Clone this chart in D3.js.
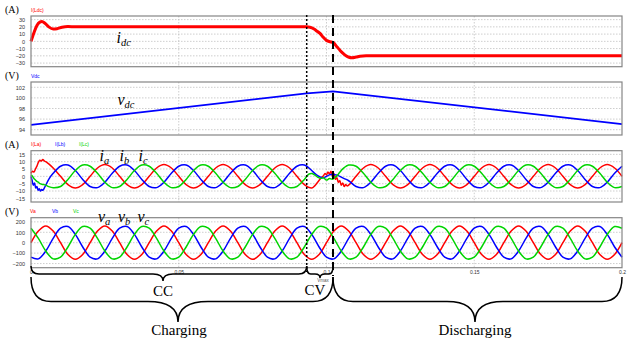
<!DOCTYPE html>
<meta charset="utf-8">
<head>
<title>Charging / discharging waveforms</title>
<style>
body { margin: 0; background: #fff; }
.tick text { font: 5.5px "Liberation Sans", Arial, sans-serif; fill: #333; }
.unit { font: 10px "Liberation Serif", "Times New Roman", serif; }
.legend { font: 5px "Liberation Sans", Arial, sans-serif; }
.math { font-family: "Liberation Serif", "Times New Roman", serif; font-style: italic; font-size: 16px; }
.phase { font: 15px "Liberation Serif", "Times New Roman", serif; }
</style>
</head>
<body>
<script src="https://cdn.jsdelivr.net/npm/d3@7"></script>
<script>

// ---- data ----

// time axis (s)
var xTicks = [0, 0.05, 0.1, 0.15, 0.2];
var xTickLabels = ["0", "0.05", "0.1", "0.15", "0.2"];
var xGrid = [0.05, 0.1, 0.15];

// switching instants (s): CC -> CV, charging -> discharging
var tCV = 0.0933, tDis = 0.1022;

// y ticks of each panel
var idcTicks = [30, 20, 10, 0, -10, -20, -30];
var vdcTicks = [102, 100, 98, 96, 94];
var iacTicks = [15, 10, 5, 0, -5, -10, -15];
var vacTicks = [200, 100, 0, -100, -200];

// dc current i_dc (A)
var idcTime = [0, 0.001, 0.002, 0.003, 0.0037, 0.0047, 0.006, 0.0075, 0.0088, 0.0105, 0.0125, 0.015,
  0.0933, 0.0944, 0.0958, 0.0968, 0.0978, 0.0988, 0.1001, 0.1012, 0.1022,
  0.1035, 0.1046, 0.1056, 0.1066, 0.1076, 0.1086, 0.11, 0.1113, 0.1134, 0.2];
var idcValue = [0, 12, 22, 26.5, 27.3, 25, 20, 17, 17.5, 19.5, 20.5, 20,
  20, 19.5, 17, 14, 11, 6, 1, -0.5, -1.5,
  -7.4, -12.5, -16.6, -20, -22, -22.7, -21.8, -20.5, -20, -20];

// dc voltage v_dc (V)
var vdcTime = [0, 0.0933, 0.1022, 0.2];
var vdcValue = [94.9, 100.85, 101.25, 95.05];

// phase voltages (V), sampled every 2.5 ms from 0 to 0.2 s
var va = [0,113,160,113,0,-113,-160,-113, 0,113,160,113,0,-113,-160,-113, 0,113,160,113,0,-113,-160,-113,
  0,113,160,113,0,-113,-160,-113, 0,113,160,113,0,-113,-160,-113, 0,113,160,113,0,-113,-160,-113,
  0,113,160,113,0,-113,-160,-113, 0,113,160,113,0,-113,-160,-113, 0,113,160,113,0,-113,-160,-113,
  0,113,160,113,0,-113,-160,-113, 0];
var vb = [-139,-155,-80,41,139,155,80,-41, -139,-155,-80,41,139,155,80,-41, -139,-155,-80,41,139,155,80,-41,
  -139,-155,-80,41,139,155,80,-41, -139,-155,-80,41,139,155,80,-41, -139,-155,-80,41,139,155,80,-41,
  -139,-155,-80,41,139,155,80,-41, -139,-155,-80,41,139,155,80,-41, -139,-155,-80,41,139,155,80,-41,
  -139,-155,-80,41,139,155,80,-41, -139];
var vc = [139,41,-80,-155,-139,-41,80,155, 139,41,-80,-155,-139,-41,80,155, 139,41,-80,-155,-139,-41,80,155,
  139,41,-80,-155,-139,-41,80,155, 139,41,-80,-155,-139,-41,80,155, 139,41,-80,-155,-139,-41,80,155,
  139,41,-80,-155,-139,-41,80,155, 139,41,-80,-155,-139,-41,80,155, 139,41,-80,-155,-139,-41,80,155,
  139,41,-80,-155,-139,-41,80,155, 139];

// phase currents (A) on the same 2.5 ms grid; null where the transient lists below take over
var ia = [null, null, null,
  5.7,0,-5.7,-8,-5.7, 0,5.7,8,5.7,0,-5.7,-8,-5.7, 0,5.7,8,5.7,0,-5.7,-8,-5.7, 0,5.7,8,5.7,0,-5.7,-8,-5.7, 0,5.7,8,5.7,0,-5.7,
  null, null, null, null, null, null,
  0,5.7,8,5.7,0,-5.7,-8,-5.7, 0,5.7,8,5.7,0,-5.7,-8,-5.7, 0,5.7,8,5.7,0,-5.7,-8,-5.7, 0,5.7,8,5.7,0,-5.7,-8,-5.7, 0,5.7,8,5.7,0];
var ib = [null, null, null,
  2.1,6.9,7.7,4,-2.1, -6.9,-7.7,-4,2.1,6.9,7.7,4,-2.1, -6.9,-7.7,-4,2.1,6.9,7.7,4,-2.1, -6.9,-7.7,-4,2.1,6.9,7.7,4,-2.1, -6.9,-7.7,-4,2.1,6.9,7.7,
  null, null, null, null, null, null,
  -6.9,-7.7,-4,2.1,6.9,7.7,4,-2.1, -6.9,-7.7,-4,2.1,6.9,7.7,4,-2.1, -6.9,-7.7,-4,2.1,6.9,7.7,4,-2.1, -6.9,-7.7,-4,2.1,6.9,7.7,4,-2.1, -6.9,-7.7,-4,2.1,6.9];
var ic = [null, null, null,
  -7.7,-6.9,-2.1,4,7.7, 6.9,2.1,-4,-7.7,-6.9,-2.1,4,7.7, 6.9,2.1,-4,-7.7,-6.9,-2.1,4,7.7, 6.9,2.1,-4,-7.7,-6.9,-2.1,4,7.7, 6.9,2.1,-4,-7.7,-6.9,-2.1,
  null, null, null, null, null, null,
  6.9,2.1,-4,-7.7,-6.9,-2.1,4,7.7, 6.9,2.1,-4,-7.7,-6.9,-2.1,4,7.7, 6.9,2.1,-4,-7.7,-6.9,-2.1,4,7.7, 6.9,2.1,-4,-7.7,-6.9,-2.1,4,7.7, 6.9,2.1,-4,-7.7,-6.9];

// transients [t, i] : start-up and CC -> CV -> discharge
var iaTransient = [[0,2],[0.0005,3.5],[0.001,3],[0.0015,5],[0.002,7],[0.0025,9.5],[0.003,11],[0.0035,10.5],[0.004,11.5],[0.0045,10.5],[0.005,10],[0.006,8.5],
  [0.095,-8],[0.096,-6.5],[0.097,-4],[0.098,-1.5],[0.099,0.5],[0.0995,2],[0.1,1],[0.1005,3],[0.101,1.5],[0.1015,3.5],[0.102,0],[0.1025,2],
  [0.103,-2],[0.1035,-1],[0.104,-4],[0.1045,-3],[0.105,-6],[0.1055,-4.5],[0.106,-7],[0.1065,-5.5],[0.107,-6.5],[0.108,-5],[0.109,-2.5]];
var ibTransient = [[0,0],[0.0004,-3],[0.0008,-6],[0.0012,-4.5],[0.0016,-8],[0.002,-7],[0.0024,-9.5],[0.0028,-8.5],[0.0032,-10],[0.0036,-9],[0.004,-9.5],[0.0045,-8],[0.005,-6],[0.006,-2],
  [0.095,4],[0.096,2],[0.097,0.5],[0.098,-0.5],[0.099,-1],[0.1,0],[0.101,1],[0.102,1.5],[0.103,1],[0.104,0.5],[0.105,-0.5],[0.106,-1.5],[0.1075,-3]];
var icTransient = [[0,1],[0.0005,0],[0.001,-1.5],[0.0015,-2.5],[0.002,-3.5],[0.0025,-4],[0.003,-5],[0.004,-5.5],[0.005,-6],[0.006,-7],
  [0.094,1.5],[0.095,2],[0.096,1],[0.097,-0.5],[0.098,-1.5],[0.099,-1],[0.1,-2.5],[0.101,-1.5],[0.102,-2],[0.103,-0.5],[0.104,1.5],[0.105,4],[0.106,6],[0.1075,7.7]];

// ---- layout ----

var width = 630, height = 346;
var red = "#ff0000", blue = "#0000ff", green = "#00d400";

var x = d3.scaleLinear().domain([0, 0.2]).range([31, 622]);
var gridT = d3.range(va.length).map(function(k) { return k * 0.0025; });

var panels = [
  {top: 16, bottom: 66.7, domain: [-35, 35], ticks: idcTicks, unit: "(A)",
    legend: [{text: "I(Ldc)", color: red, x: 31}]},
  {top: 82, bottom: 135, domain: [93, 103], ticks: vdcTicks, unit: "(V)",
    legend: [{text: "Vdc", color: blue, x: 31}]},
  {top: 150.7, bottom: 202, domain: [-17.5, 17.5], ticks: iacTicks, unit: "(A)",
    legend: [{text: "I(La)", color: red, x: 31}, {text: "I(Lb)", color: blue, x: 55}, {text: "I(Lc)", color: green, x: 79}]},
  {top: 217.7, bottom: 267.7, domain: [-240, 240], ticks: vacTicks, unit: "(V)",
    legend: [{text: "Va", color: red, x: 30}, {text: "Vb", color: blue, x: 52}, {text: "Vc", color: green, x: 73}]}
];

var svg = d3.select("body").append("svg")
    .attr("width", width)
    .attr("height", height);

function onGrid(values, extra) {
  var pts = [];
  values.forEach(function(v, k) { if (v !== null) pts.push([gridT[k], v]); });
  return pts.concat(extra || []).sort(function(a, b) { return a[0] - b[0]; });
}

function pairs(times, values) {
  return times.map(function(t, i) { return [t, values[i]]; });
}

// Draw the four panels
panels.forEach(function(p) {
  var y = d3.scaleLinear().domain(p.domain).range([p.bottom, p.top]);
  p.y = y;
  var g = svg.append("g");

  g.selectAll(".hgrid")
      .data(p.ticks)
      .enter().append("line")
      .attr("x1", x(0)).attr("x2", x(0.2))
      .attr("y1", function(d) { return y(d); })
      .attr("y2", function(d) { return y(d); })
      .attr("stroke", "#b9b9b9")
      .attr("stroke-width", 0.7)
      .attr("stroke-dasharray", "1.5,1.5");

  g.selectAll(".vgrid")
      .data(xGrid)
      .enter().append("line")
      .attr("x1", function(d) { return x(d); })
      .attr("x2", function(d) { return x(d); })
      .attr("y1", p.top).attr("y2", p.bottom)
      .attr("stroke", "#b9b9b9")
      .attr("stroke-width", 0.7)
      .attr("stroke-dasharray", "1.5,1.5");

  g.append("g")
      .attr("class", "axis")
      .attr("transform", "translate(" + x(0) + ",0)")
      .call(d3.axisLeft(y).tickValues(p.ticks).tickSize(0).tickPadding(6))
      .call(function(a) { a.select(".domain").remove(); });

  p.g = g;

  svg.append("text")
      .attr("class", "unit")
      .attr("x", 5)
      .attr("y", p.top - 3)
      .text(p.unit);

  svg.selectAll(null)
      .data(p.legend)
      .enter().append("text")
      .attr("class", "legend")
      .attr("x", function(d) { return d.x; })
      .attr("y", p.top - 4.5)
      .attr("fill", function(d) { return d.color; })
      .text(function(d) { return d.text; });
});

function drawLine(p, pts, color, w, curve) {
  var line = d3.line()
      .x(function(d) { return x(d[0]); })
      .y(function(d) { return p.y(d[1]); })
      .curve(curve);
  p.g.append("path")
      .datum(pts)
      .attr("d", line)
      .attr("fill", "none")
      .attr("stroke", color)
      .attr("stroke-width", w)
      .attr("stroke-linejoin", "round");
}

var smooth = d3.curveCatmullRom.alpha(0.5);

drawLine(panels[0], pairs(idcTime, idcValue), red, 3, d3.curveMonotoneX);
drawLine(panels[1], pairs(vdcTime, vdcValue), blue, 1.8, d3.curveLinear);

drawLine(panels[2], onGrid(ia, iaTransient), red, 1.5, smooth);
drawLine(panels[2], onGrid(ib, ibTransient), blue, 1.5, smooth);
drawLine(panels[2], onGrid(ic, icTransient), green, 1.5, smooth);

drawLine(panels[3], onGrid(va), red, 1.5, smooth);
drawLine(panels[3], onGrid(vb), blue, 1.5, smooth);
drawLine(panels[3], onGrid(vc), green, 1.5, smooth);

// frames on top
panels.forEach(function(p) {
  svg.append("rect")
      .attr("x", x(0)).attr("y", p.top)
      .attr("width", x(0.2) - x(0))
      .attr("height", p.bottom - p.top)
      .attr("fill", "none")
      .attr("stroke", "#858585")
      .attr("stroke-width", 1.2);
});

// time axis under the last panel
var last = panels[3];
svg.append("g")
    .attr("class", "axis")
    .attr("transform", "translate(0," + last.bottom + ")")
    .call(d3.axisBottom(x).tickValues(xTicks).tickSize(0).tickPadding(3)
      .tickFormat(function(d, i) { return xTickLabels[i]; }))
    .call(function(a) { a.select(".domain").remove(); })
    .selectAll("text").style("font-size", "5px");

svg.append("text")
    .attr("x", 323).attr("y", 281.5)
    .attr("text-anchor", "middle")
    .style("font", "4.5px 'Liberation Sans', Arial, sans-serif")
    .attr("fill", "#555")
    .text("Vmax");

// switching markers
svg.append("line")
    .attr("x1", x(tCV)).attr("x2", x(tCV))
    .attr("y1", 15).attr("y2", 272)
    .attr("stroke", "#000").attr("stroke-width", 1.5)
    .attr("stroke-dasharray", "2,2");

svg.append("line")
    .attr("x1", x(tDis)).attr("x2", x(tDis))
    .attr("y1", 15).attr("y2", 276)
    .attr("stroke", "#000").attr("stroke-width", 2)
    .attr("stroke-dasharray", "8,5");

// signal names
function mathLabel(xp, yp, main, sub, fill) {
  var t = svg.append("text").attr("class", "math").attr("x", xp).attr("y", yp).attr("fill", fill || "#000");
  t.append("tspan").text(main);
  t.append("tspan").attr("font-size", "10.5px").attr("dy", 3).text(sub);
}
mathLabel(116.5, 42.5, "i", "dc");
mathLabel(117.5, 105, "v", "dc");
mathLabel(99.5, 160.5, "i", "a");
mathLabel(119.5, 160.5, "i", "b");
mathLabel(138.5, 160.5, "i", "c");
mathLabel(98, 221.5, "v", "a");
mathLabel(118, 221.5, "v", "b");
mathLabel(137.5, 221.5, "v", "c");

// braces
function brace(x1, x2, xm, yEnd, yBar, yTip, r, r2) {
  return "M" + x1 + "," + yEnd +
    "Q" + x1 + "," + yBar + " " + (x1 + r) + "," + yBar +
    "L" + (xm - r2) + "," + yBar +
    "Q" + xm + "," + yBar + " " + xm + "," + yTip +
    "Q" + xm + "," + yBar + " " + (xm + r2) + "," + yBar +
    "L" + (x2 - r) + "," + yBar +
    "Q" + x2 + "," + yBar + " " + x2 + "," + yEnd;
}

var braces = [
  {d: brace(x(0), x(tCV), 163, 266, 274, 281, 8, 10)},
  {d: brace(x(tCV), x(tDis), 320, 266, 274, 278, 4, 5)},
  {d: brace(x(0), x(tDis), 178, 277, 301.5, 322, 20, 30)},
  {d: brace(x(tDis), x(0.2), 475, 277, 301.5, 322, 20, 28)}
];
svg.selectAll(".brace")
    .data(braces)
    .enter().append("path")
    .attr("class", "brace")
    .attr("d", function(d) { return d.d; })
    .attr("fill", "none")
    .attr("stroke", "#000")
    .attr("stroke-width", 1.5);

var phaseLabels = [
  {text: "CC", x: 163, y: 296},
  {text: "CV", x: 315, y: 295},
  {text: "Charging", x: 179, y: 335},
  {text: "Discharging", x: 475, y: 335}
];
svg.selectAll(".phase")
    .data(phaseLabels)
    .enter().append("text")
    .attr("class", "phase")
    .attr("x", function(d) { return d.x; })
    .attr("y", function(d) { return d.y; })
    .attr("text-anchor", "middle")
    .text(function(d) { return d.text; });

</script>
</body>
